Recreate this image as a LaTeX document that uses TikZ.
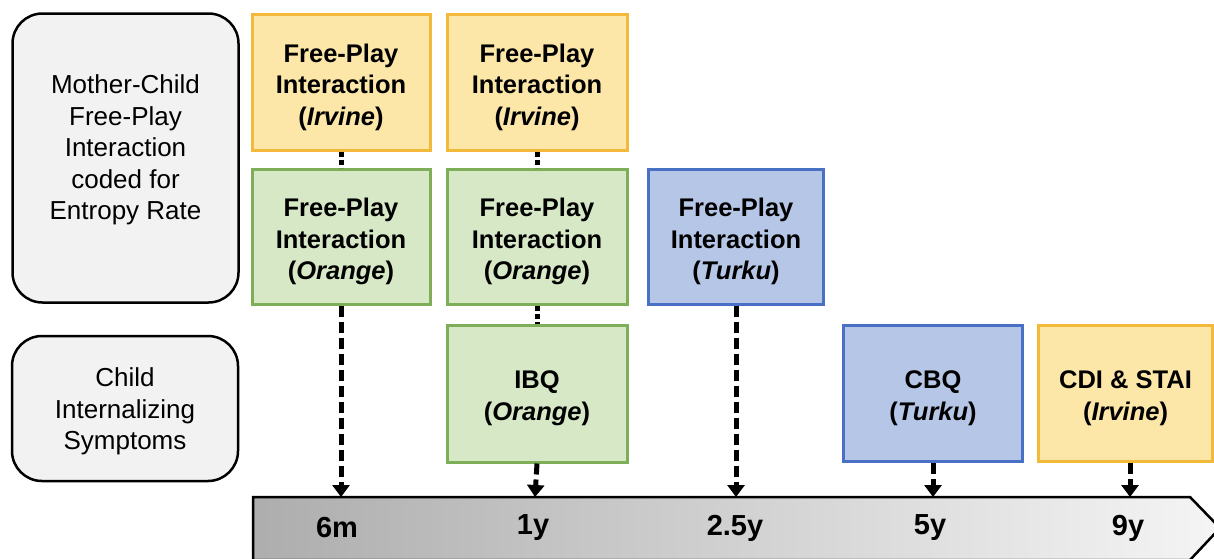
\documentclass[tikz,border=0pt]{standalone}
\usepackage{fontspec}
\setmainfont{Liberation Sans}
\usetikzlibrary{arrows.meta}
\definecolor{yfill}{HTML}{FCE6A8}
\definecolor{ydraw}{HTML}{F2B93B}
\definecolor{gfill}{HTML}{D6E8C6}
\definecolor{gdraw}{HTML}{7EAF58}
\definecolor{bfill}{HTML}{B5C6E6}
\definecolor{bdraw}{HTML}{4A70C6}
\definecolor{lfill}{HTML}{F2F2F2}
\newcommand{\topstrut}{\rule{0pt}{28.5pt}}
\newcommand{\twostrut}{\rule{0pt}{27pt}}
\tikzset{
  box/.style={minimum width=178pt, minimum height=136pt, line width=3pt, align=center, inner sep=2pt,
    font=\fontsize{25.5}{31.5}\selectfont\bfseries},
  ybox/.style={box, fill=yfill, draw=ydraw},
  gbox/.style={box, fill=gfill, draw=gdraw},
  bbox/.style={box, fill=bfill, draw=bdraw},
  lbox/.style={rounded corners=30pt, fill=lfill, draw=black, line width=2.5pt, align=center,
    font=\fontsize{26}{31.5}\selectfont},
  shortlink/.style={line width=5pt, dash pattern=on 5pt off 3pt},
  longlink/.style={line width=5pt, dash pattern=on 11pt off 5pt, -{Triangle[width=17pt,length=12pt]}},
  tlabel/.style={font=\fontsize{29}{34}\selectfont\bfseries},
}
\begin{document}
\begin{tikzpicture}[x=1pt,y=-1pt]
\useasboundingbox (0,0) rectangle (1214,558);
% left labels
\node[lbox, minimum width=226pt, minimum height=289pt] (lab1) at (125.5,158) {Mother-Child\\Free-Play\\Interaction\\coded for\\Entropy Rate\rule[-21.5pt]{0pt}{1pt}};
\node[lbox, minimum width=226pt, minimum height=145pt] (lab2) at (125,408.5) {\rule{0pt}{25pt}Child\\Internalizing\\Symptoms};
% timeline
\shade[left color=black!32, right color=black!4, draw=black, line width=2.5pt]
  (253,497) -- (1190,497) -- (1220,528) -- (1190,560) -- (253,560) -- cycle;
\coordinate (t1) at (341,497);
\coordinate (t2) at (535,497);
\coordinate (t3) at (736,497);
\coordinate (t4) at (933,497);
\coordinate (t5) at (1130,497);
\node[tlabel] (l1) at (337,528) {6m};
\node[tlabel] (l2) at (533,528) {1y};
\node[tlabel] (l3) at (735,528) {2.5y};
\node[tlabel] (l4) at (930,528) {5y};
\node[tlabel] (l5) at (1128,528) {9y};
% boxes
\node[ybox] (y1) at (341,82) {\topstrut Free-Play\\Interaction\\(\textit{Irvine})};
\node[gbox, minimum height=135pt] (g1) at (341,236.5) {\topstrut Free-Play\\Interaction\\(\textit{Orange})};
\node[ybox, minimum width=180pt] (y2) at (537,82) {\topstrut Free-Play\\Interaction\\(\textit{Irvine})};
\node[gbox, minimum width=180pt, minimum height=135pt] (g2) at (537,236.5) {\topstrut Free-Play\\Interaction\\(\textit{Orange})};
\node[gbox, minimum width=180pt, minimum height=137pt] (ibq) at (537,393.5) {\twostrut IBQ\\(\textit{Orange})};
\node[bbox, minimum width=175pt, minimum height=135pt] (b3) at (736,236.5) {\topstrut Free-Play\\Interaction\\(\textit{Turku})};
\node[bbox, minimum width=179pt, minimum height=136pt] (cbq) at (933,393.5) {\twostrut CBQ\\(\textit{Turku})};
\node[ybox, minimum width=174pt, minimum height=136pt] (cdi) at (1125.5,393.5) {\twostrut CDI \& STAI\\(\textit{Irvine})};
% connectors
\draw[shortlink] (y1.south) -- (g1.north);
\draw[shortlink] (y2.south) -- (g2.north);
\draw[shortlink] (g2.south) -- (ibq.north);
\draw[longlink] (g1.south) -- (t1);
\draw[longlink] (ibq.south) -- (t2);
\draw[longlink] (b3.south) -- (t3);
\draw[longlink] (cbq.south) -- (t4);
\draw[longlink] (cdi.south -| t5) -- (t5);
\end{tikzpicture}
\end{document}
